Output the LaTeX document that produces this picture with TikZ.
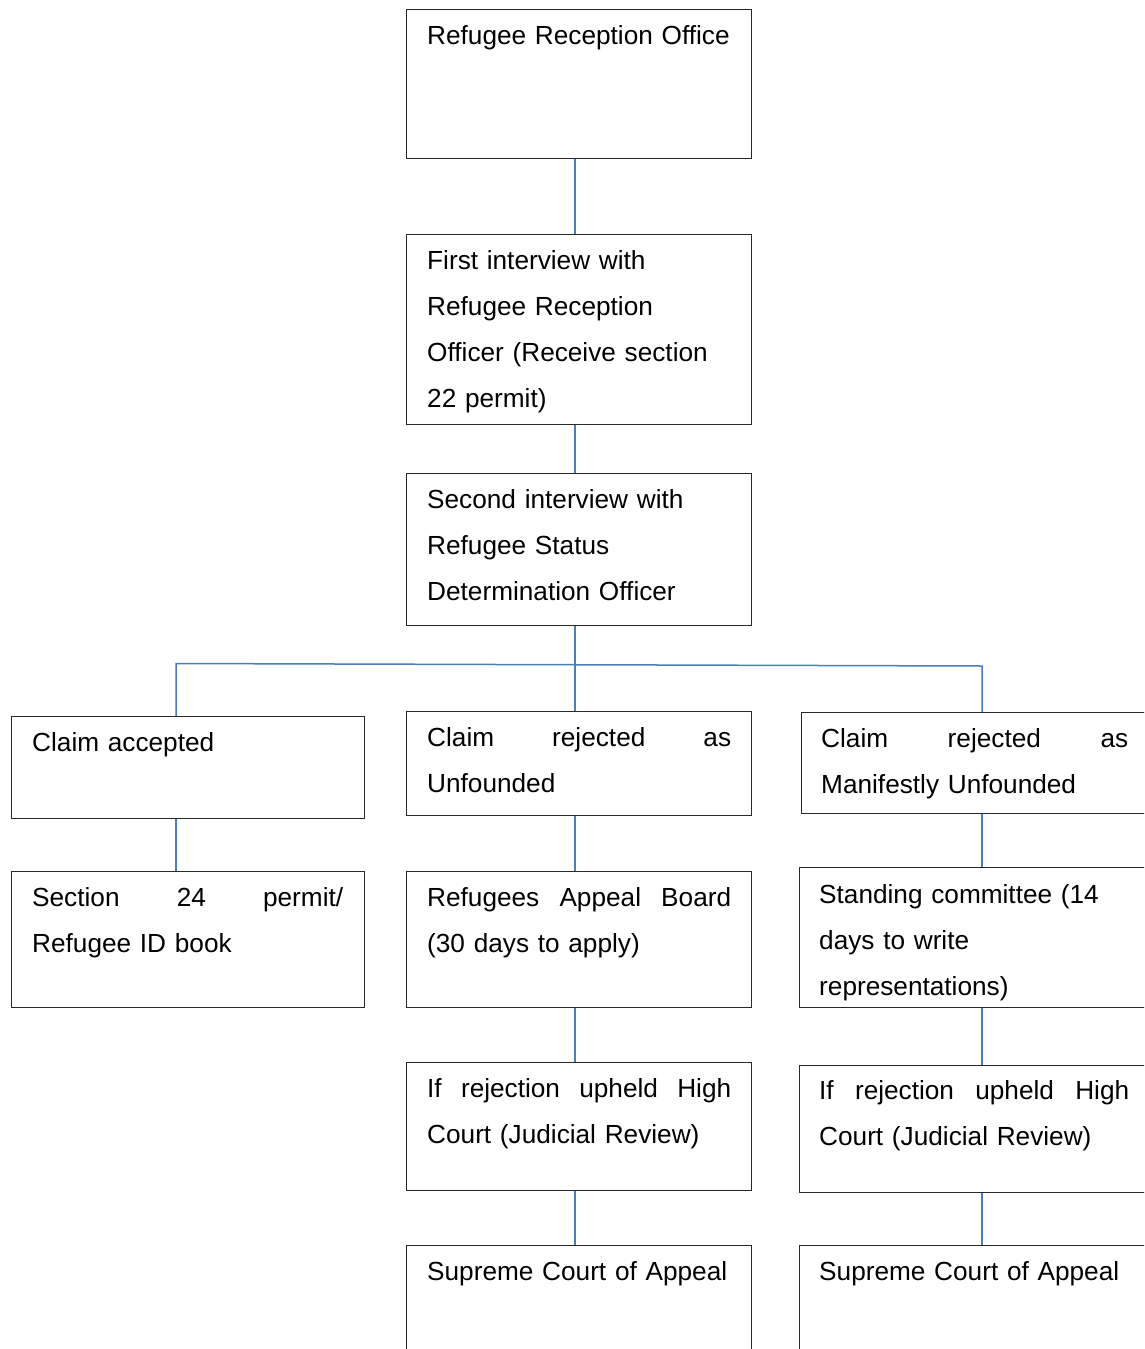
\documentclass[tikz,border=0pt]{standalone}
\usepackage{fontspec}
\setmainfont{Liberation Sans}
\definecolor{connblue}{RGB}{74,126,187}
\definecolor{boxline}{RGB}{40,40,40}
\begin{document}
\begin{tikzpicture}[x=1pt,y=-1pt,
  box/.style={draw=boxline,line width=1.2pt,anchor=north west,inner sep=0pt},
  bmid/.style={box,minimum width=345pt},
  bleft/.style={box,minimum width=353pt},
  bright/.style={box,minimum width=347pt},
  txt/.style={anchor=north west,inner sep=0pt,align=left,text width=330pt,
    font={\fontsize{26.2}{46}\selectfont\parindent=0pt}},
  conn/.style={draw=connblue,line width=1.5pt}]
\useasboundingbox (0,0) rectangle (1144,1349);
\clip (0,0) rectangle (1144,1349);
\newcommand{\jline}[2]{\hbox to #1{#2}}
% boxes
\node[bmid,minimum height=149pt] (b1) at (406,9) {};
\node[bmid,minimum height=190pt] (b2) at (406,234) {};
\node[bmid,minimum height=152pt] (b3) at (406,473) {};
\node[bleft,minimum height=102pt] (acc) at (11,716) {};
\node[bmid,minimum height=104pt] (unf) at (406,711) {};
\node[bright,minimum height=101pt] (man) at (801,712) {};
\node[bleft,minimum height=136pt] (sec) at (11,871) {};
\node[bmid,minimum height=136pt] (rab) at (406,871) {};
\node[bright,minimum height=140pt] (stc) at (799,867) {};
\node[bmid,minimum height=128pt] (hcm) at (406,1062) {};
\node[bright,minimum height=127pt] (hcr) at (799,1065) {};
\node[bmid,minimum height=140pt] (scm) at (406,1245) {};
\node[bright,minimum height=140pt] (scr) at (799,1245) {};
% texts
\node[txt] (t1) at (427,11.8) {\strut Refugee Reception Office};
\node[txt] (t2) at (427,236.8) {\strut First interview with\\Refugee Reception\\Officer (Receive section\\22 permit)};
\node[txt] (t3) at (427,475.8) {\strut Second interview with\\Refugee Status\\Determination Officer};
\node[txt] (tacc) at (32,718.8) {\strut Claim accepted};
\node[txt] (tunf) at (427,713.8) {\strut\jline{304pt}{Claim\hfill rejected\hfill as}\\Unfounded};
\node[txt] (tman) at (821,714.8) {\strut\jline{307pt}{Claim\hfill rejected\hfill as}\\Manifestly Unfounded};
\node[txt] (tsec) at (32,873.8) {\strut\jline{311pt}{Section\hfill 24\hfill permit/}\\Refugee ID book};
\node[txt] (trab) at (427,873.8) {\strut\jline{304pt}{Refugees\hfill Appeal\hfill Board}\\(30 days to apply)};
\node[txt] (tstc) at (819,870.8) {\strut Standing committee (14\\days to write\\representations)};
\node[txt] (thcm) at (427,1064.8) {\strut\jline{304pt}{If\hfill rejection\hfill upheld\hfill High}\\Court (Judicial Review)};
\node[txt] (thcr) at (819,1066.8) {\strut\jline{310pt}{If\hfill rejection\hfill upheld\hfill High}\\Court (Judicial Review)};
\node[txt] (tscm) at (427,1247.8) {\strut Supreme Court of Appeal};
\node[txt] (tscr) at (819,1247.8) {\strut Supreme Court of Appeal};
% connectors
\coordinate (xl) at (176,0);
\coordinate (xm) at (575,0);
\coordinate (xr) at (982,0);
\coordinate (hubl) at (176,663.5);
\coordinate (hubr) at (982,666);
\draw[conn] (b1.south -| xm) -- (b2.north -| xm);
\draw[conn] (b2.south -| xm) -- (b3.north -| xm);
\draw[conn] (b3.south -| xm) -- (unf.north -| xm);
\draw[conn] (acc.north -| xl) -- (hubl) -- (hubr) -- (man.north -| xr);
\draw[conn] (acc.south -| xl) -- (sec.north -| xl);
\draw[conn] (unf.south -| xm) -- (rab.north -| xm);
\draw[conn] (rab.south -| xm) -- (hcm.north -| xm);
\draw[conn] (hcm.south -| xm) -- (scm.north -| xm);
\draw[conn] (man.south -| xr) -- (stc.north -| xr);
\draw[conn] (stc.south -| xr) -- (hcr.north -| xr);
\draw[conn] (hcr.south -| xr) -- (scr.north -| xr);
\end{tikzpicture}
\end{document}
